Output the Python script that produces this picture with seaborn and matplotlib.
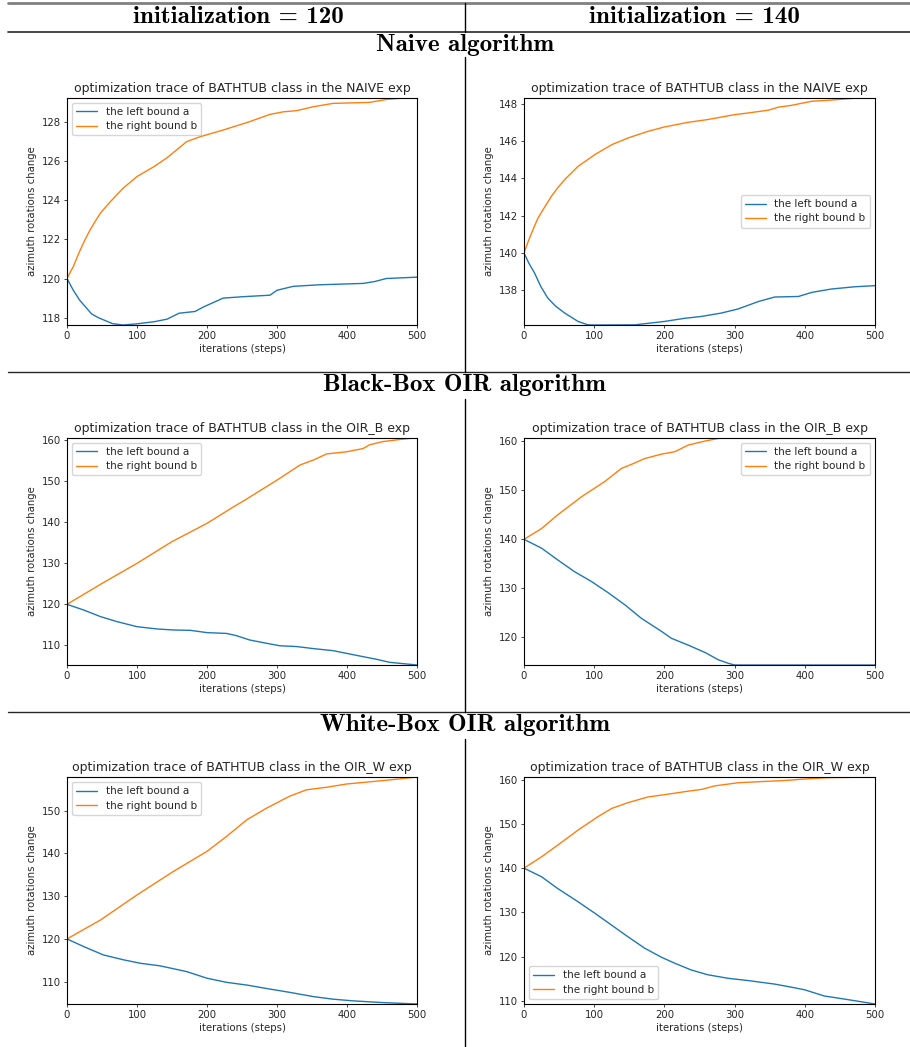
import numpy as np
import matplotlib
matplotlib.use("Agg")
import matplotlib.pyplot as plt
from matplotlib.lines import Line2D
import seaborn as sns
sns.set_style("ticks")

W, H = 910, 1047

# ---- data (steps, value) ----
# initialization = 120, naive
n120_a_steps = [0, 9, 18, 35, 45, 65, 80, 100, 125, 143, 160, 183, 195, 223, 250, 290, 300, 323, 360, 423, 440, 456, 500]
n120_a = [120, 119.4, 118.9, 118.2, 118.0, 117.7, 117.63, 117.69, 117.8, 117.93, 118.23, 118.32, 118.55, 119.0, 119.07, 119.15, 119.4, 119.6, 119.68, 119.75, 119.85, 120.0, 120.07]
n120_b_steps = [0, 5, 9, 14, 19, 26, 33, 40, 48, 62, 80, 100, 124, 143, 171, 190, 223, 261, 290, 309, 328, 352, 380, 432, 456, 480, 500]
n120_b = [120, 120.35, 120.6, 121.05, 121.46, 122.0, 122.48, 122.9, 123.35, 123.92, 124.6, 125.2, 125.7, 126.16, 126.98, 127.23, 127.57, 128.0, 128.37, 128.5, 128.56, 128.76, 128.93, 128.98, 129.13, 129.2, 129.22]

# initialization = 140, naive
n140_a_steps = [0, 7, 15, 24, 34, 45, 58, 77, 91, 100, 158, 200, 229, 253, 281, 305, 334, 357, 391, 410, 438, 471, 500]
n140_a = [140, 139.45, 138.93, 138.2, 137.58, 137.15, 136.78, 136.33, 136.15, 136.14, 136.15, 136.33, 136.5, 136.6, 136.78, 137.0, 137.4, 137.64, 137.67, 137.89, 138.07, 138.19, 138.25]
n140_b_steps = [0, 5, 10, 15, 20, 30, 39, 48, 58, 77, 101, 125, 148, 177, 200, 234, 262, 300, 319, 348, 362, 381, 410, 433, 471, 500]
n140_b = [140, 140.52, 141.0, 141.45, 141.88, 142.5, 143.04, 143.5, 143.94, 144.65, 145.28, 145.81, 146.17, 146.53, 146.76, 147.01, 147.16, 147.42, 147.51, 147.66, 147.82, 147.92, 148.14, 148.19, 148.3, 148.33]

# initialization = 120, OIR_B
b120_a_steps = [0, 24, 48, 71, 100, 128, 152, 176, 200, 228, 242, 261, 285, 304, 328, 352, 380, 399, 418, 442, 461, 500]
b120_a = [120, 118.6, 117.0, 115.8, 114.55, 114.0, 113.74, 113.66, 113.1, 112.9, 112.36, 111.3, 110.5, 109.9, 109.7, 109.2, 108.7, 108.05, 107.4, 106.6, 105.85, 105.2]
b120_b_steps = [0, 50, 100, 150, 200, 238, 250, 300, 333, 352, 371, 399, 423, 432, 451, 475, 500]
b120_b = [120, 125.1, 130.0, 135.3, 139.76, 143.8, 145.0, 150.3, 154.0, 155.2, 156.7, 157.2, 158.0, 158.9, 159.7, 160.2, 160.65]

# initialization = 140, OIR_B
b140_a_steps = [0, 25, 48, 72, 96, 120, 144, 167, 196, 210, 234, 258, 277, 291, 300, 500]
b140_a = [140, 138.2, 135.8, 133.4, 131.4, 129.1, 126.6, 123.9, 121.2, 119.8, 118.4, 116.9, 115.4, 114.7, 114.35, 114.35]
b140_b_steps = [0, 25, 48, 82, 115, 139, 153, 172, 196, 215, 234, 258, 277, 300, 500]
b140_b = [140, 142.2, 145.0, 148.7, 151.8, 154.5, 155.3, 156.5, 157.4, 157.9, 159.25, 160.07, 160.6, 160.75, 160.75]

# initialization = 120, OIR_W
w120_a_steps = [0, 24, 52, 81, 105, 133, 171, 200, 228, 257, 285, 318, 352, 380, 409, 451, 500]
w120_a = [120, 118.2, 116.25, 115.1, 114.3, 113.7, 112.35, 110.8, 109.84, 109.2, 108.4, 107.5, 106.5, 105.9, 105.5, 105.1, 104.77]
w120_b_steps = [0, 48, 100, 152, 200, 228, 257, 285, 318, 342, 371, 399, 428, 466, 500]
w120_b = [120, 124.45, 130.3, 135.8, 140.5, 144.0, 147.9, 150.6, 153.4, 154.9, 155.5, 156.25, 156.7, 157.3, 157.9]

# initialization = 140, OIR_W
w140_a_steps = [0, 25, 48, 77, 101, 125, 148, 172, 196, 215, 238, 262, 291, 319, 357, 381, 400, 428, 457, 500]
w140_a = [140, 138.05, 135.4, 132.4, 129.8, 127.1, 124.5, 121.9, 119.85, 118.5, 117.0, 115.9, 115.1, 114.6, 113.8, 113.1, 112.5, 111.1, 110.4, 109.3]
w140_b_steps = [0, 25, 48, 77, 105, 125, 148, 177, 200, 234, 253, 272, 305, 343, 376, 400, 433, 500]
w140_b = [140, 142.56, 145.2, 148.6, 151.6, 153.5, 154.8, 156.1, 156.6, 157.4, 157.8, 158.6, 159.3, 159.6, 159.85, 160.15, 160.45, 160.6]

col_headers = ["initialization = 120", "initialization = 140"]
row_headers = ["Naive algorithm", "Black-Box OIR algorithm", "White-Box OIR algorithm"]
exp_names = ["NAIVE", "OIR_B", "OIR_W"]
legend_locs = [["upper left", "center right"], ["upper left", "upper right"], ["upper left", "lower left"]]

panels = [
    [(n120_a_steps, n120_a, n120_b_steps, n120_b), (n140_a_steps, n140_a, n140_b_steps, n140_b)],
    [(b120_a_steps, b120_a, b120_b_steps, b120_b), (b140_a_steps, b140_a, b140_b_steps, b140_b)],
    [(w120_a_steps, w120_a, w120_b_steps, w120_b), (w140_a_steps, w140_a, w140_b_steps, w140_b)],
]


def rect(l, t, r, b):
    return [l / W, 1 - b / H, (r - l) / W, (b - t) / H]


def hline(y, x0=8, x1=W, lw=1.0, color="0.15"):
    fig.add_artist(Line2D([x0 / W, x1 / W], [1 - y / H, 1 - y / H], lw=lw, color=color))


def vline(y0, y1, x=465.5):
    fig.add_artist(Line2D([x / W, x / W], [1 - y0 / H, 1 - y1 / H], lw=1.0, color="black"))


fig = plt.figure(figsize=(W / 100, H / 100), dpi=100)

axes_top = [97.7, 437.7, 777]
axes_bot = [325, 665, 1004]
axes_lr = [(67, 417), (524, 875)]

for i in range(3):
    for j in range(2):
        a_x, a_y, b_x, b_y = panels[i][j]
        l, r = axes_lr[j]
        ax = fig.add_axes(rect(l, axes_top[i], r, axes_bot[i]))
        sns.lineplot(x=a_x, y=a_y, ax=ax, color="#1f77b4", lw=1.0, label="the left bound a")
        sns.lineplot(x=b_x, y=b_y, ax=ax, color="#ff7f0e", lw=1.0, label="the right bound b")
        ax.margins(x=0, y=0)
        ax.set_xlim(0, 500)
        ax.set_title(f"optimization trace of BATHTUB class in the {exp_names[i]} exp",
                     fontsize=9, pad=4)
        ax.set_xlabel("iterations (steps)", fontsize=7.3, labelpad=2)
        ax.set_ylabel("azimuth rotations change", fontsize=7.3, labelpad=3)
        ax.tick_params(labelsize=7.3, length=2.5, width=0.6, pad=2)
        for s in ax.spines.values():
            s.set_linewidth(0.8)
            s.set_color("black")
        leg = ax.legend(loc=legend_locs[i][j], fontsize=7.5, frameon=True,
                        handlelength=2.0, borderpad=0.4, labelspacing=0.4)
        leg.get_frame().set_edgecolor("0.8")

# table-like frame
hline(3, lw=2.0, color="0.5")
hline(32, lw=1.2, color="0.15")
hline(372, lw=1.0, color="0.15")
hline(712, lw=1.0, color="0.15")
vline(3, 32)
vline(57, 372)
vline(399, 712)
vline(739, H)

hdr_font = dict(family="cmb10", fontsize=18, ha="center", va="center", color="black")
fig.text(238 / W, 1 - 17 / H, col_headers[0], **hdr_font)
fig.text(694 / W, 1 - 17 / H, col_headers[1], **hdr_font)
for y, txt in zip([45.5, 385.5, 724.5], row_headers):
    fig.text(465 / W, 1 - y / H, txt, **hdr_font)

fig.savefig("out.png", dpi=100)
